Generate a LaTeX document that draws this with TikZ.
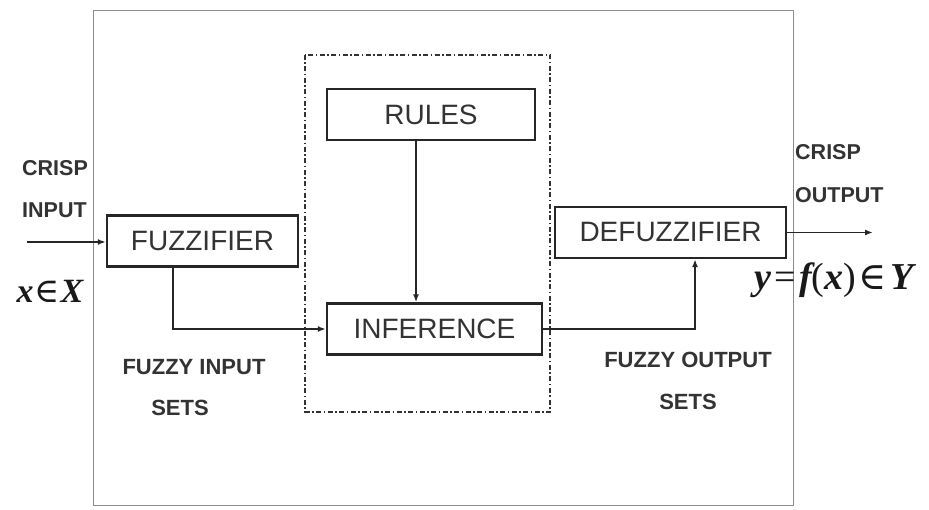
\documentclass[tikz,border=0pt]{standalone}
\usepackage{fontspec}
\setmainfont{Liberation Sans}
\newfontfamily\tms{Liberation Serif}
\newfontfamily\dvs{DejaVu Serif}
\usetikzlibrary{arrows.meta}
\tikzset{
  blk/.style={draw=black!85, line width=2.4pt, minimum height=51pt, inner sep=0pt, font=\fontsize{28}{32}\selectfont, text=black!80},
  arr/.style={line width=1.8pt, draw=black!85, -{Latex[length=8pt,width=6pt]}},
  lab/.style={font=\fontsize{21.5}{25}\selectfont\bfseries, text=black!80, inner sep=0pt},
  lab2/.style={font=\fontsize{22}{26}\selectfont\bfseries, text=black!80, inner sep=0pt},
  dashdot/.style={draw=black!80, line width=1.8pt, dash pattern=on 5pt off 2.5pt on 1.5pt off 2.5pt},
  frame/.style={draw=black!45, line width=1pt},
  mth/.style={inner sep=0pt, text=black!90}
}
\begin{document}
\begin{tikzpicture}[x=1pt,y=-1pt]
\useasboundingbox (0,0) rectangle (929,510);
\fill[white] (0,0) rectangle (929,510);
\draw[frame] (93,11) rectangle (793,505);
\draw[dashdot] (305,55) rectangle (550,412);

\node[blk, minimum width=191pt] (fuzz) at (202.5,241) {FUZZIFIER};
\node[blk, minimum width=208pt] (rules) at (431,114.5) {RULES};
\node[blk, minimum width=215pt] (inf) at (434.5,329) {INFERENCE};
\node[blk, minimum width=231pt] (defuzz) at (670.5,232.5) {DEFUZZIFIER};

\coordinate (in) at (27,242);
\coordinate (out) at (873,230);

\draw[arr] (in) -- (in -| fuzz.west);
\draw[arr] ([xshift=-29.5pt]fuzz.south) |- (inf.west);
\draw[arr] ([xshift=-15pt]rules.south) -- ([xshift=-15pt]rules.south |- inf.north);
\draw[arr] (inf.east) -| ([xshift=24.5pt]defuzz.south);
\draw[arr] (defuzz.east) -- (defuzz.east -| out);

\node[lab, anchor=west] (ci) at (22,168) {CRISP};
\node[lab, anchor=west] (ii) at (22,210) {INPUT};
\node[lab, anchor=west] (co) at (795,152) {CRISP};
\node[lab, anchor=west] (oo) at (795,195) {OUTPUT};
\node[lab2] (fi) at (194,367) {FUZZY INPUT};
\node[lab2] (si) at (180,408) {SETS};
\node[lab2] (fo) at (688,360) {FUZZY OUTPUT};
\node[lab2] (so) at (688,402) {SETS};

\node[mth, font=\fontsize{34}{38}\selectfont] (xx) at (50,291) {\tms\bfseries\itshape x\kern1pt{\dvs\mdseries\upshape ∈}\kern1ptX};
\node[mth, font=\fontsize{38}{42}\selectfont] (yy) at (834,280) {\tms\bfseries\itshape y\kern3pt{\upshape\mdseries=}\kern3ptf{\upshape\mdseries(}x{\upshape\mdseries)}\kern3pt{\dvs\mdseries\upshape ∈}\kern3ptY};
\end{tikzpicture}
\end{document}
